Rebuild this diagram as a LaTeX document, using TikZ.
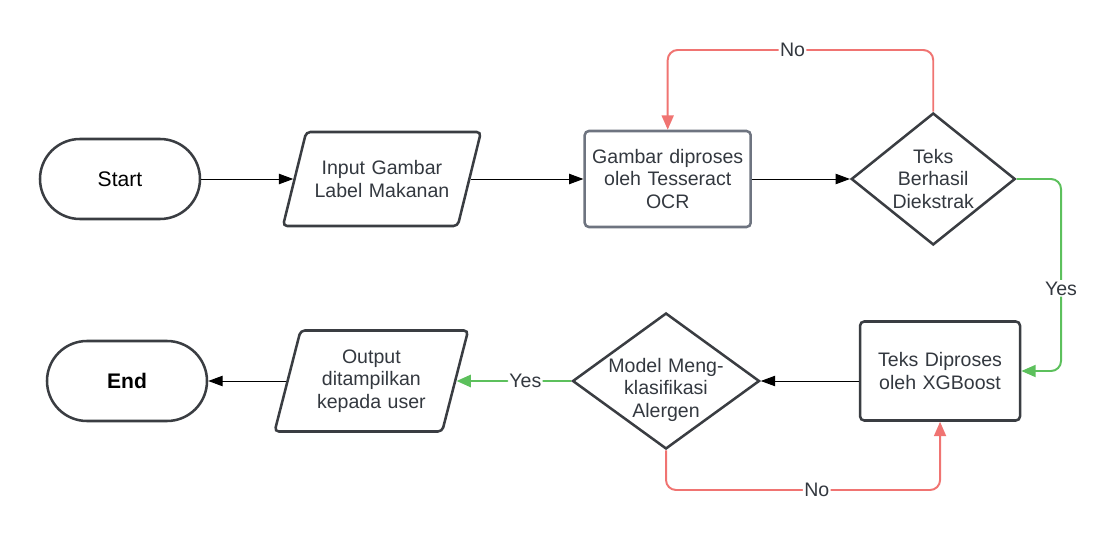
\documentclass[tikz,border=0pt]{standalone}
\usepackage{fontspec}
\setmainfont{Liberation Sans}
\usetikzlibrary{shapes.geometric,arrows.meta,positioning}

\definecolor{shapeline}{HTML}{3A3D42}
\definecolor{grayline}{HTML}{6E7480}
\definecolor{textgray}{HTML}{33383F}
\definecolor{nored}{HTML}{F07472}
\definecolor{yesgreen}{HTML}{5CC05C}
\newcommand{\flowfont}{\fontsize{13.9}{16.2}\selectfont}

\begin{document}
\begin{tikzpicture}[
    termbox/.style={rectangle, rounded corners=1cm, draw=shapeline, line width=1.8pt, minimum width=4cm, minimum height=2cm, font=\fontsize{15}{18}\selectfont},
    iobox/.style={trapezium, trapezium left angle=75, trapezium right angle=105, trapezium stretches body=true, rounded corners=3pt, draw=shapeline, line width=1.8pt, inner xsep=2pt, align=center, text=textgray, font=\flowfont},
    procbox/.style={rectangle, rounded corners=3pt, draw=shapeline, line width=1.8pt, align=center, text=textgray, font=\flowfont},
    decbox/.style={diamond, draw=shapeline, line width=1.8pt, inner ysep=0pt, align=center, text=textgray, font=\flowfont},
    arrow/.style={-{Triangle[length=3.6mm, width=2.6mm]}, line width=0.7pt, draw=black},
    noarrow/.style={-{Triangle[length=3.6mm, width=3mm]}, line width=1.4pt, draw=nored, rounded corners=0.25cm},
    yesarrow/.style={-{Triangle[length=3.6mm, width=3mm]}, line width=1.4pt, draw=yesgreen, rounded corners=0.25cm},
    branch/.style={fill=white, inner sep=1pt, text=textgray, font=\flowfont}
]
\useasboundingbox (0,0) rectangle (27.95,-13.6);

% === TOP ROW ===
\node[termbox] (start) at (3.0,-4.475) {Start};
\node[iobox, inner ysep=0.62cm, minimum width=4.95cm, minimum height=2.35cm, text width=3.6cm, right=2.3cm of start] (input) {Input Gambar\\Label Makanan};
\node[procbox, draw=grayline, minimum width=4.15cm, minimum height=2.4cm, text width=3.9cm, right=2.82cm of input] (gambar) {Gambar diproses\\oleh Tesseract\\OCR};
\node[decbox, aspect=1.24, inner xsep=-0.1cm, minimum width=4.1cm, minimum height=3.3cm, text width=2.2cm, right=2.45cm of gambar] (teks) {Teks\\Berhasil\\Diekstrak};

% === BOTTOM ROW ===
\node[termbox] (end) at (3.175,-9.525) {\textbf{End}};
\node[iobox, inner ysep=0.42cm, minimum width=4.78cm, minimum height=2.525cm, text width=3.4cm, right=1.95cm of end] (output) {Output\\ditampilkan\\kepada user};
\node[decbox, aspect=1.375, inner xsep=-0.3cm, inner ysep=-0.22cm, minimum width=4.675cm, minimum height=3.4cm, text width=2.9cm, right=2.87cm of output] (model) {\rule{0pt}{0.8cm}Model Meng-\\klasifikasi\\Alergen};
\node[procbox, minimum width=4cm, minimum height=2.475cm, text width=3.5cm, right=2.45cm of model, yshift=0.25cm] (diproses) {Teks Diproses\\oleh XGBoost};

% === Main flow ===
\draw[arrow] (start.east) -- (input.west);
\draw[arrow] (input.east) -- (gambar.west);
\draw[arrow] (gambar.east) -- (teks.west);
\draw[arrow] (diproses.west |- model.east) -- (model.east);
\draw[arrow] (output.west) -- (end.east);

% === Yes branches ===
\coordinate (yes-turn) at (26.525,-4.475);
\draw[yesarrow] (teks.east) -- (yes-turn) -- node[branch, pos=0.57] {Yes} (yes-turn |- diproses.east) -- (diproses.east);
\draw[yesarrow, line width=2pt] (model.west) -- node[branch, pos=0.4] {Yes} (output.east);

% === No branches (loop back) ===
\coordinate (no-top) at (0,-1.25);
\draw[noarrow] (teks.north) -- (teks.north |- no-top) -- node[branch, pos=0.53] {No} (gambar.north |- no-top) -- (gambar.north);
\coordinate (no-bot) at (0,-12.25);
\draw[noarrow] (model.south) -- (model.south |- no-bot) -- node[branch, pos=0.55] {No} (diproses.south |- no-bot) -- (diproses.south);

\end{tikzpicture}
\end{document}
